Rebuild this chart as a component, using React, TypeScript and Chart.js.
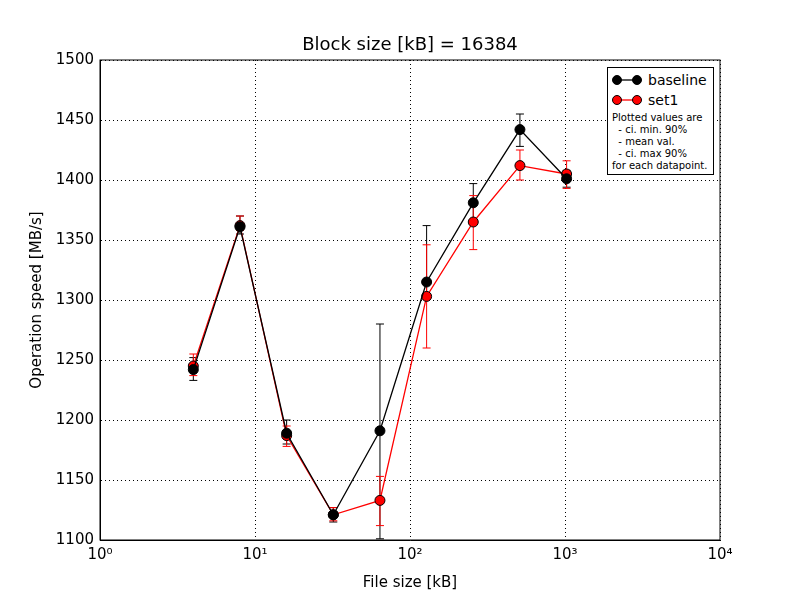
import { useEffect, useRef } from 'react';
import { Chart, registerables } from 'chart.js';

Chart.register(...registerables);

const fileSizes = [4, 8, 16, 32, 64, 128, 256, 512, 1024];
const baseline = [1242, 1361, 1189, 1121, 1191, 1315, 1381, 1442, 1401];
const baselineLo = [1233, 1355, 1180, 1115, 1101, 1302, 1365, 1428, 1394];
const baselineHi = [1252, 1370, 1200, 1127, 1280, 1362, 1397, 1455, 1408];
const set1 = [1245, 1362, 1187, 1121, 1133, 1303, 1365, 1412, 1405];
const set1Lo = [1237, 1358, 1178, 1116, 1112, 1260, 1342, 1400, 1393];
const set1Hi = [1255, 1370, 1195, 1127, 1153, 1346, 1387, 1425, 1416];
const xTicks = [1, 10, 100, 1000, 10000];
const supers = ['⁰', '¹', '²', '³', '⁴'];

const errors = [
  { lo: baselineLo, hi: baselineHi, color: 'black' },
  { lo: set1Lo, hi: set1Hi, color: 'red' },
];

const errorBars = {
  id: 'errorBars',
  beforeDatasetsDraw(chart: Chart) {
    const { ctx } = chart;
    const xs = chart.scales.x;
    const ys = chart.scales.y;
    ctx.save();
    ctx.lineWidth = 1;
    errors.forEach(e => {
      ctx.strokeStyle = e.color;
      fileSizes.forEach((f, i) => {
        const x = xs.getPixelForValue(f);
        const y1 = ys.getPixelForValue(e.lo[i]);
        const y2 = ys.getPixelForValue(e.hi[i]);
        ctx.beginPath();
        ctx.moveTo(x, y1); ctx.lineTo(x, y2);
        ctx.moveTo(x - 4, y1); ctx.lineTo(x + 4, y1);
        ctx.moveTo(x - 4, y2); ctx.lineTo(x + 4, y2);
        ctx.stroke();
      });
    });
    ctx.restore();
  },
};

const font = 'DejaVu Sans';

export default function App() {
  const canvasRef = useRef<HTMLCanvasElement>(null);

  useEffect(() => {
    if (!canvasRef.current) return undefined;
    const chart = new Chart(canvasRef.current, {
      type: 'line',
      data: {
        datasets: [
          {
            label: 'baseline',
            data: fileSizes.map((x, i) => ({ x, y: baseline[i] })),
            borderColor: 'black', backgroundColor: 'black', pointBorderColor: 'black',
            borderWidth: 1.3, pointRadius: 5, pointBorderWidth: 1,
          },
          {
            label: 'set1',
            data: fileSizes.map((x, i) => ({ x, y: set1[i] })),
            borderColor: 'red', backgroundColor: 'red', pointBorderColor: 'black',
            borderWidth: 1.3, pointRadius: 5, pointBorderWidth: 1,
          },
        ],
      },
      options: {
        animation: false,
        responsive: false,
        layout: { padding: { top: 60, right: 80, left: 0, bottom: 0 } },
        plugins: { legend: { display: false }, tooltip: { enabled: false } },
        scales: {
          x: {
            type: 'logarithmic', min: 1, max: 10000,
            afterBuildTicks: s => { s.ticks = xTicks.map(value => ({ value })); },
            afterFit: s => { s.height = 60; },
            ticks: {
              color: 'black', font: { family: font, size: 15 }, maxRotation: 0, padding: 6,
              callback: v => '10' + supers[Math.round(Math.log10(Number(v)))],
            },
            grid: { color: 'black', drawTicks: false },
            border: { color: 'black', dash: [1, 3], display: true },
            title: { display: true, text: 'File size [kB]', color: 'black', font: { family: font, size: 15 }, padding: { top: 0, bottom: 8 } },
          },
          y: {
            min: 1100, max: 1500,
            afterFit: s => { s.width = 100; },
            ticks: { stepSize: 50, color: 'black', font: { family: font, size: 15 }, padding: 6, callback: v => String(v) },
            grid: { color: 'black', drawTicks: false },
            border: { color: 'black', dash: [1, 3] },
            title: { display: true, text: 'Operation speed [MB/s]', color: 'black', font: { family: font, size: 15 }, padding: { top: 28, bottom: 0 } },
          },
        },
      },
      plugins: [errorBars, {
        id: 'frame',
        afterDraw(c: Chart) {
          const { ctx, chartArea: a } = c;
          ctx.save();
          ctx.strokeStyle = 'black';
          ctx.lineWidth = 1;
          ctx.strokeRect(a.left, a.top, a.right - a.left, a.bottom - a.top);
          ctx.restore();
        },
      }],
    });
    return () => chart.destroy();
  }, []);

  const marker = (fill: string, line: string) => (
    <svg width="30" height="12" style={{ verticalAlign: 'middle', marginRight: 6 }}>
      <line x1="1" y1="6" x2="29" y2="6" stroke={line} strokeWidth="1.3" />
      <circle cx="5" cy="6" r="4.5" fill={fill} stroke="black" />
      <circle cx="25" cy="6" r="4.5" fill={fill} stroke="black" />
    </svg>
  );

  return (
    <div style={{ position: 'fixed', left: 0, top: 0, width: 800, height: 600, background: 'white', fontFamily: font }}>
      <canvas ref={canvasRef} width={800} height={600} />
      <div style={{ position: 'absolute', top: 33, left: 0, width: 820, textAlign: 'center', fontSize: 18 }}>
        Block size [kB] = 16384
      </div>
      <div style={{ position: 'absolute', left: 607, top: 67, width: 107, height: 108, border: '1px solid black', background: 'white', padding: '2px 0 0 4px', boxSizing: 'border-box' }}>
        <div style={{ fontSize: 14, height: 20, display: 'flex', alignItems: 'center' }}>{marker('black', 'black')}baseline</div>
        <div style={{ fontSize: 14, height: 20, display: 'flex', alignItems: 'center' }}>{marker('red', 'red')}set1</div>
        <div style={{ fontSize: 10, lineHeight: '12px', marginTop: 2 }}>
          Plotted values are<br />&nbsp; - ci. min. 90%<br />&nbsp; - mean val.<br />&nbsp; - ci. max 90%<br />for each datapoint.
        </div>
      </div>
    </div>
  );
}
